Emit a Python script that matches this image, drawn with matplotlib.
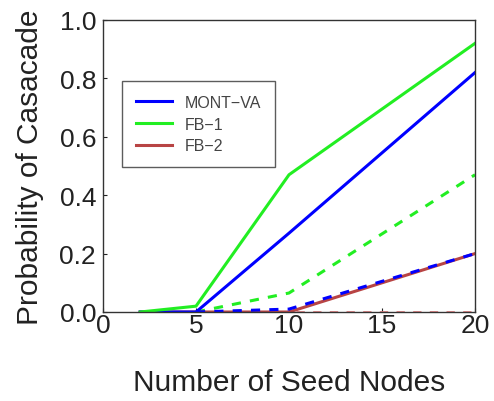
import matplotlib
matplotlib.use("Agg")
import matplotlib.pyplot as plt

plt.rcParams['font.family'] = ['Liberation Sans', 'DejaVu Sans']

# Seed-node counts and cascade probabilities
seeds_full = [2, 5, 10, 20]
seeds_dash = [5, 10, 20]

mont_va = [0.0, 0.0, 0.27, 0.82]
fb1 = [0.0, 0.02, 0.47, 0.92]
fb2 = [0.0, 0.0, 0.0, 0.20]

mont_va_dash = [0.0, 0.01, 0.20]
fb1_dash = [0.0, 0.065, 0.47]
fb2_dash = [0.0, 0.0, 0.0]

labels = ["MONT\u2212VA", "FB\u22121", "FB\u22122"]
c_blue = "#0000ff"
c_green = "#22ee22"
c_red = "#b84444"

fig = plt.figure(figsize=(4.94, 4.02), dpi=100)
ax = fig.add_axes([103 / 494, 1 - 313 / 402, 372 / 494, 292 / 402])

ax.plot(seeds_dash, fb2_dash, color="#e08080", lw=2, ls=(0, (3, 3)))
ax.plot(seeds_dash, fb1_dash, color=c_green, lw=2.2, ls=(0, (3, 3)))
ax.plot(seeds_full, fb2, color=c_red, lw=2.2, label=labels[2])
ax.plot(seeds_dash, mont_va_dash, color=c_blue, lw=2.2, ls=(0, (3, 3)))
ax.plot(seeds_full, mont_va, color=c_blue, lw=2.2, label=labels[0])
ax.plot(seeds_full, fb1, color=c_green, lw=2.2, label=labels[1])

ax.set_xlim(0, 20)
ax.set_ylim(0, 1.0)
ax.set_xticks([0, 5, 10, 15, 20])
ax.set_yticks([0.0, 0.2, 0.4, 0.6, 0.8, 1.0])
ax.set_yticklabels(["0.0", "0.2", "0.4", "0.6", "0.8", "1.0"])
ax.tick_params(direction="in", length=3, width=0.8, labelsize=19, colors="#222222")
ax.tick_params(axis="x", pad=1)
ax.tick_params(axis="y", pad=5)
for s in ax.spines.values():
    s.set_color("#333333")
    s.set_linewidth(1.0)

ax.set_xlabel("Number of Seed Nodes", fontsize=21.5, color="#222222", labelpad=22)
ax.set_ylabel("Probability of Casacade", fontsize=21.5, color="#222222", labelpad=11)

h, l = ax.get_legend_handles_labels()
order = [l.index(x) for x in labels]
leg = ax.legend([h[i] for i in order], [l[i] for i in order],
                loc="upper left", bbox_to_anchor=(0.051, 0.79), borderaxespad=0,
                fontsize=11.5, frameon=True, fancybox=False, handlelength=2.3,
                borderpad=0.85, labelspacing=0.42, handletextpad=0.8)
leg.get_frame().set_edgecolor("#333333")
leg.get_frame().set_linewidth(1.0)
for t in leg.get_texts():
    t.set_color("#444444")

fig.savefig("out.png", dpi=100)
